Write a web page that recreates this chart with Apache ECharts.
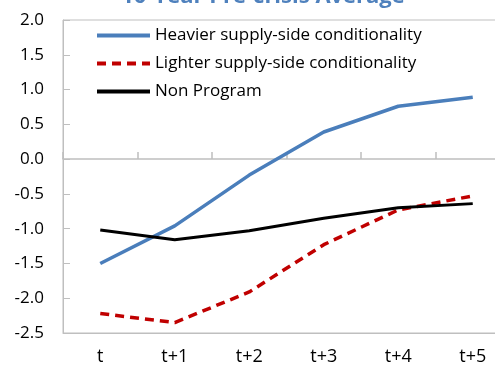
<!DOCTYPE html>
<html><head><meta charset="utf-8">
<script src="https://cdn.jsdelivr.net/npm/echarts@6/dist/echarts.min.js"></script>
<style>html,body{margin:0;padding:0;background:#fff}#c{width:495px;height:371px}</style>
</head><body><div id="c"></div>
<script>
const titleText = "10-Year Pre-crisis Average";
const categories = ["t", "t+1", "t+2", "t+3", "t+4", "t+5"];
const heavier = [-1.50, -0.96, -0.23, 0.39, 0.76, 0.89];
const lighter = [-2.22, -2.35, -1.91, -1.23, -0.73, -0.53];
const nonProgram = [-1.02, -1.16, -1.03, -0.85, -0.70, -0.64];
const seriesNames = ["Heavier supply-side conditionality", "Lighter supply-side conditionality", "Non Program"];

const FONT = "'Open Sans', 'DejaVu Sans', sans-serif";
const chart = echarts.init(document.getElementById('c'), null, {renderer: 'canvas'});
chart.setOption({
  animation: false,
  backgroundColor: '#fff',
  title: {
    text: titleText, left: 258, textAlign: 'center', top: -19,
    textStyle: {color: '#4F81BD', fontSize: 22, fontWeight: 'bold', fontFamily: FONT}
  },
  legend: {
    orient: 'vertical', left: 90, top: 22, itemGap: 11, itemWidth: 53, itemHeight: 18,
    itemStyle: {opacity: 0},
    lineStyle: {width: 4},
    textStyle: {fontSize: 17, fontFamily: FONT, color: '#000'},
    data: seriesNames
  },
  grid: {left: 63, top: 20, width: 447, height: 313, show: true, borderColor: '#BFBFBF', borderWidth: 1,
         outerBoundsMode: 'none', containLabel: false},
  xAxis: [{
    type: 'category', data: categories, position: 'bottom',
    axisLine: {onZero: false, show: true, lineStyle: {color: '#BFBFBF'}},
    axisTick: {show: false},
    axisLabel: {fontSize: 18, fontFamily: FONT, color: '#000', margin: 15}
  }, {
    type: 'category', data: categories, position: 'bottom',
    axisLine: {onZero: true, show: true, lineStyle: {color: '#BFBFBF', width: 1.5}},
    axisTick: {show: true, inside: true, length: 7, lineStyle: {color: '#BFBFBF', width: 1.5}},
    axisLabel: {show: false}
  }],
  yAxis: {
    type: 'value', min: -2.5, max: 2.0, interval: 0.5,
    axisLine: {show: true, lineStyle: {color: '#BFBFBF'}},
    axisTick: {show: true, inside: true, length: 7, lineStyle: {color: '#BFBFBF'}},
    splitLine: {show: false},
    axisLabel: {fontSize: 17, fontFamily: FONT, color: '#000', margin: 19,
      formatter: v => v.toFixed(1)}
  },
  series: [
    {name: seriesNames[0], type: 'line', data: heavier, symbol: 'none', xAxisIndex: 0,
     lineStyle: {color: '#4A7EBB', width: 3.5}, itemStyle: {color: '#4A7EBB'}},
    {name: seriesNames[1], type: 'line', data: lighter, symbol: 'none', xAxisIndex: 0,
     lineStyle: {color: '#C00000', width: 3.5, type: [9, 6]}, itemStyle: {color: '#C00000'}},
    {name: seriesNames[2], type: 'line', data: nonProgram, symbol: 'none', xAxisIndex: 0,
     lineStyle: {color: '#000', width: 3}, itemStyle: {color: '#000'}}
  ]
});
</script></body></html>
